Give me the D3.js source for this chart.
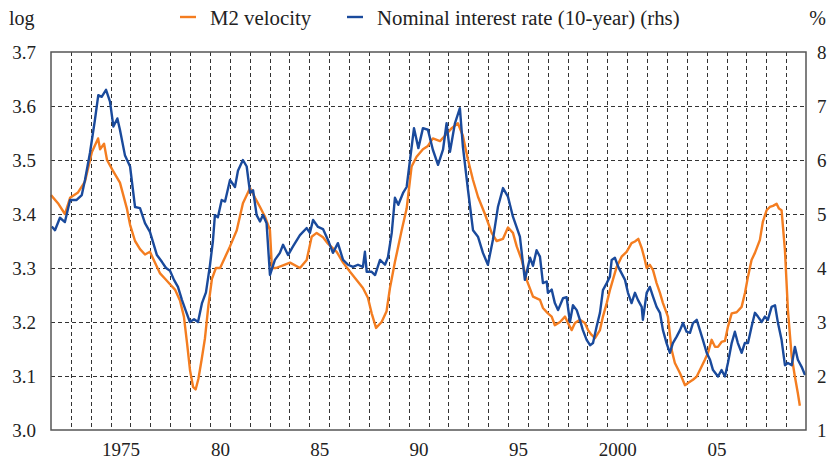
<!DOCTYPE html>
<html>
<head>
<meta charset="utf-8">
<script src="https://cdn.jsdelivr.net/npm/d3@7"></script>
<style>
  body { margin: 0; background: #fff; }
  svg text { font-family: "Liberation Serif", "DejaVu Serif", serif; fill: #222; }
</style>
</head>
<body>
<svg class="svg"></svg>
<script>
// M2 velocity (log), [decimal year, value]
const m2Velocity = [
  [1972.00, 3.435], [1972.35, 3.42], [1972.70, 3.40], [1972.96, 3.43], [1973.36, 3.44],
  [1973.71, 3.46], [1974.06, 3.515], [1974.37, 3.54], [1974.47, 3.52], [1974.67, 3.53],
  [1974.82, 3.50], [1975.12, 3.48], [1975.47, 3.458], [1975.82, 3.41], [1975.98, 3.38],
  [1976.23, 3.35], [1976.48, 3.335], [1976.73, 3.325], [1976.98, 3.33], [1977.23, 3.31],
  [1977.49, 3.29], [1977.74, 3.28], [1977.99, 3.27], [1978.24, 3.26], [1978.49, 3.24],
  [1978.69, 3.21], [1978.85, 3.16], [1979.00, 3.11], [1979.15, 3.08], [1979.28, 3.075],
  [1979.42, 3.095], [1979.58, 3.13], [1979.75, 3.17], [1979.92, 3.23], [1980.10, 3.28],
  [1980.30, 3.30], [1980.51, 3.30], [1980.76, 3.32], [1981.01, 3.34], [1981.35, 3.37],
  [1981.66, 3.42], [1982.02, 3.448], [1982.27, 3.43], [1982.52, 3.413], [1982.77, 3.395],
  [1983.02, 3.37], [1983.12, 3.30], [1983.32, 3.30], [1983.68, 3.305], [1984.03, 3.31],
  [1984.53, 3.30], [1984.87, 3.315], [1985.12, 3.358], [1985.37, 3.365], [1985.69, 3.357],
  [1985.94, 3.345], [1986.38, 3.33], [1986.70, 3.31], [1987.05, 3.293], [1987.38, 3.278],
  [1987.70, 3.263], [1987.95, 3.245], [1988.14, 3.216], [1988.36, 3.189], [1988.64, 3.20],
  [1988.89, 3.22], [1989.06, 3.263], [1989.31, 3.311], [1989.65, 3.37], [1989.90, 3.41],
  [1990.15, 3.488], [1990.40, 3.506], [1990.72, 3.52], [1990.97, 3.526], [1991.22, 3.54],
  [1991.58, 3.535], [1991.83, 3.545], [1992.17, 3.559], [1992.48, 3.568], [1992.73, 3.545],
  [1992.99, 3.50], [1993.24, 3.463], [1993.49, 3.432], [1993.84, 3.40], [1994.18, 3.365],
  [1994.43, 3.35], [1994.75, 3.354], [1995.00, 3.375], [1995.25, 3.365], [1995.44, 3.34],
  [1995.69, 3.315], [1995.94, 3.278], [1996.26, 3.247], [1996.61, 3.241], [1996.76, 3.226],
  [1997.01, 3.216], [1997.20, 3.21], [1997.36, 3.194], [1997.62, 3.20], [1997.87, 3.21],
  [1998.02, 3.198], [1998.21, 3.185], [1998.37, 3.198], [1998.62, 3.204], [1998.87, 3.198],
  [1999.03, 3.185], [1999.21, 3.176], [1999.38, 3.17], [1999.63, 3.185], [1999.78, 3.21],
  [1999.97, 3.235], [2000.13, 3.259], [2000.28, 3.278], [2000.47, 3.302], [2000.72, 3.321],
  [2000.97, 3.33], [2001.22, 3.346], [2001.39, 3.349], [2001.56, 3.354], [2001.73, 3.337],
  [2001.89, 3.315], [2001.98, 3.30], [2002.14, 3.306], [2002.30, 3.296], [2002.48, 3.272],
  [2002.65, 3.254], [2002.80, 3.235], [2003.05, 3.21], [2003.24, 3.148], [2003.40, 3.124],
  [2003.66, 3.105], [2003.91, 3.083], [2004.06, 3.087], [2004.31, 3.093], [2004.50, 3.099],
  [2004.66, 3.111], [2004.91, 3.13], [2005.07, 3.143], [2005.25, 3.167], [2005.42, 3.154],
  [2005.57, 3.154], [2005.75, 3.163], [2005.92, 3.165], [2006.07, 3.191], [2006.26, 3.216],
  [2006.51, 3.218], [2006.76, 3.228], [2006.93, 3.254], [2007.08, 3.284], [2007.26, 3.315],
  [2007.43, 3.328], [2007.68, 3.352], [2007.83, 3.386], [2008.02, 3.407], [2008.18, 3.413],
  [2008.34, 3.415], [2008.52, 3.419], [2008.64, 3.41], [2008.77, 3.407], [2008.94, 3.333],
  [2009.09, 3.222], [2009.28, 3.136], [2009.44, 3.099], [2009.59, 3.068], [2009.69, 3.045]
];

// nominal 10-year interest rate (%), right-hand scale
const interestRate = [
  [1972.04, 4.77], [1972.20, 4.70], [1972.45, 4.93], [1972.70, 4.85], [1972.96, 5.26],
  [1973.29, 5.26], [1973.55, 5.35], [1973.71, 5.63], [1973.96, 6.13], [1974.21, 6.74],
  [1974.38, 7.2], [1974.55, 7.17], [1974.77, 7.3], [1974.97, 7.08], [1975.14, 6.62],
  [1975.34, 6.77], [1975.47, 6.56], [1975.72, 6.09], [1975.98, 5.88], [1976.23, 5.13],
  [1976.48, 5.11], [1976.73, 4.83], [1976.98, 4.67], [1977.33, 4.24], [1977.59, 4.11],
  [1977.79, 4.0], [1977.99, 3.95], [1978.19, 3.78], [1978.39, 3.65], [1978.59, 3.41],
  [1978.79, 3.2], [1978.99, 3.0], [1979.20, 3.05], [1979.40, 3.0], [1979.60, 3.35],
  [1979.80, 3.55], [1980.00, 4.05], [1980.15, 4.5], [1980.25, 4.98], [1980.40, 4.94],
  [1980.59, 5.26], [1980.76, 5.23], [1981.01, 5.63], [1981.26, 5.5], [1981.41, 5.8],
  [1981.66, 6.0], [1981.85, 5.88], [1982.02, 5.39], [1982.17, 5.44], [1982.35, 4.98],
  [1982.52, 4.86], [1982.67, 4.98], [1982.85, 4.83], [1983.02, 3.87], [1983.27, 4.15],
  [1983.52, 4.28], [1983.68, 4.43], [1983.93, 4.24], [1984.18, 4.4], [1984.53, 4.61],
  [1984.87, 4.74], [1985.03, 4.65], [1985.19, 4.89], [1985.44, 4.76], [1985.69, 4.72],
  [1985.94, 4.52], [1986.19, 4.28], [1986.44, 4.46], [1986.70, 4.15], [1986.95, 4.06],
  [1987.20, 4.02], [1987.45, 4.06], [1987.70, 4.02], [1987.80, 4.3], [1987.89, 3.93],
  [1988.14, 3.93], [1988.31, 3.87], [1988.56, 4.15], [1988.81, 4.06], [1988.96, 4.2],
  [1989.15, 4.65], [1989.31, 5.3], [1989.48, 5.17], [1989.72, 5.39], [1989.90, 5.5],
  [1990.07, 6.0], [1990.27, 6.59], [1990.49, 6.22], [1990.72, 6.59], [1990.97, 6.56],
  [1991.22, 6.19], [1991.48, 5.91], [1991.73, 6.19], [1991.91, 6.68], [1992.08, 6.15],
  [1992.33, 6.68], [1992.58, 6.96], [1992.73, 6.25], [1992.99, 5.44], [1993.24, 4.7],
  [1993.49, 4.58], [1993.74, 4.28], [1993.99, 4.06], [1994.24, 4.52], [1994.50, 5.14],
  [1994.75, 5.48], [1995.00, 5.32], [1995.25, 4.95], [1995.60, 4.58], [1995.85, 3.78],
  [1996.11, 4.19], [1996.26, 4.04], [1996.44, 4.33], [1996.61, 4.21], [1996.76, 3.72],
  [1996.95, 3.75], [1997.01, 3.54], [1997.20, 3.6], [1997.36, 3.35], [1997.52, 3.22],
  [1997.77, 3.44], [1997.95, 3.46], [1998.12, 3.0], [1998.27, 3.31], [1998.46, 3.22],
  [1998.62, 3.04], [1998.77, 2.85], [1998.96, 2.67], [1999.13, 2.57], [1999.28, 2.61],
  [1999.46, 2.91], [1999.63, 3.17], [1999.78, 3.59], [1999.97, 3.72], [2000.13, 3.84],
  [2000.22, 4.15], [2000.38, 4.19], [2000.55, 4.02], [2000.72, 3.9], [2000.89, 3.78],
  [2001.04, 3.54], [2001.22, 3.35], [2001.39, 3.54], [2001.54, 3.41], [2001.73, 3.28],
  [2001.79, 3.04], [2001.98, 3.54], [2002.14, 3.65], [2002.30, 3.47], [2002.48, 3.28],
  [2002.65, 3.17], [2002.80, 2.85], [2002.98, 2.61], [2003.15, 2.43], [2003.30, 2.61],
  [2003.49, 2.73], [2003.66, 2.85], [2003.81, 2.98], [2003.99, 2.82], [2004.16, 2.8],
  [2004.31, 2.98], [2004.50, 3.04], [2004.66, 2.85], [2004.81, 2.67], [2005.00, 2.43],
  [2005.17, 2.3], [2005.32, 2.11], [2005.57, 1.99], [2005.75, 2.11], [2005.92, 1.99],
  [2006.07, 2.24], [2006.26, 2.61], [2006.42, 2.82], [2006.57, 2.61], [2006.76, 2.43],
  [2006.92, 2.61], [2007.08, 2.61], [2007.26, 2.91], [2007.43, 3.17], [2007.58, 3.1],
  [2007.77, 3.0], [2007.93, 3.1], [2008.08, 3.04], [2008.27, 3.28], [2008.44, 3.31],
  [2008.59, 2.98], [2008.77, 2.67], [2008.94, 2.2], [2009.09, 2.24], [2009.28, 2.2],
  [2009.44, 2.54], [2009.59, 2.3], [2009.78, 2.17], [2009.95, 2.02]
];

const leftTicks = [3.0, 3.1, 3.2, 3.3, 3.4, 3.5, 3.6, 3.7];
const rightTicks = [1, 2, 3, 4, 5, 6, 7, 8];
const yearLabels = ["1975", "80", "85", "90", "95", "2000", "05"];
const labelYears = [1975, 1980, 1985, 1990, 1995, 2000, 2005];
const seriesNames = ["M2 velocity", "Nominal interest rate (10-year) (rhs)"];
const colors = { m2: "#f47d20", rate: "#1a4a9c" };

const width = 834, height = 464;
const margin = { top: 52, right: 28, bottom: 34, left: 51 };

const svg = d3.select(".svg").attr("width", width).attr("height", height);

const x = d3.scaleLinear().domain([1972, 2010]).range([margin.left, width - margin.right]);
const yL = d3.scaleLinear().domain([3.0, 3.7]).range([height - margin.bottom, margin.top]);
const yR = d3.scaleLinear().domain([1, 8]).range([height - margin.bottom, margin.top]);

// dashed grid
const grid = svg.append("g").attr("stroke", "#333").attr("stroke-width", 1).attr("stroke-dasharray", "4,3");
grid.selectAll("line.v")
  .data(d3.range(1973, 2010))
  .join("line")
  .attr("class", "v")
  .attr("x1", d => Math.round(x(d)) + 0.5).attr("x2", d => Math.round(x(d)) + 0.5)
  .attr("y1", margin.top).attr("y2", height - margin.bottom);
grid.selectAll("line.h")
  .data(leftTicks.slice(1, -1))
  .join("line")
  .attr("class", "h")
  .attr("x1", margin.left).attr("x2", width - margin.right)
  .attr("y1", d => Math.round(yL(d)) + 0.5).attr("y2", d => Math.round(yL(d)) + 0.5);

// lines
const lineL = d3.line().x(d => x(d[0])).y(d => yL(d[1]));
const lineR = d3.line().x(d => x(d[0])).y(d => yR(d[1]));

svg.append("path").datum(m2Velocity)
  .attr("fill", "none").attr("stroke", colors.m2).attr("stroke-width", 2.4)
  .attr("stroke-linejoin", "round").attr("d", lineL);
svg.append("path").datum(interestRate)
  .attr("fill", "none").attr("stroke", colors.rate).attr("stroke-width", 2.4)
  .attr("stroke-linejoin", "round").attr("d", lineR);

// frame
svg.append("rect")
  .attr("x", margin.left).attr("y", margin.top)
  .attr("width", width - margin.left - margin.right)
  .attr("height", height - margin.top - margin.bottom)
  .attr("fill", "none").attr("stroke", "#555").attr("stroke-width", 1.5);

// axes (labels only)
const fontSize = 19;
const leftAxis = svg.append("g")
  .attr("transform", `translate(${margin.left},0)`)
  .call(d3.axisLeft(yL).tickValues(leftTicks).tickFormat(d3.format(".1f")).tickSize(0).tickPadding(15));
const rightAxis = svg.append("g")
  .attr("transform", `translate(${width - margin.right},0)`)
  .call(d3.axisRight(yR).tickValues(rightTicks).tickFormat(d3.format("d")).tickSize(0).tickPadding(11));
const bottomAxis = svg.append("g")
  .attr("transform", `translate(0,${height - margin.bottom})`)
  .call(d3.axisBottom(x).tickValues(labelYears.map(d => d + 0.5))
    .tickFormat((d, i) => yearLabels[i]).tickSize(0).tickPadding(13));

[leftAxis, rightAxis, bottomAxis].forEach(a => {
  a.select(".domain").remove();
  a.selectAll("text").attr("font-size", fontSize).attr("font-family", "Liberation Serif").attr("fill", "#222");
});

// unit labels and legend
svg.append("text").attr("x", 9).attr("y", 25).attr("font-size", 20).text("log");
svg.append("text").attr("x", 826).attr("y", 25).attr("font-size", 20).attr("text-anchor", "end").text("%");

const legend = svg.append("g");
const legendItems = [
  { name: seriesNames[0], color: colors.m2, x: 180 },
  { name: seriesNames[1], color: colors.rate, x: 347 }
];
legend.selectAll("line")
  .data(legendItems)
  .join("line")
  .attr("x1", d => d.x).attr("x2", d => d.x + 16)
  .attr("y1", 17).attr("y2", 17)
  .attr("stroke", d => d.color).attr("stroke-width", 2.4);
legend.selectAll("text")
  .data(legendItems)
  .join("text")
  .attr("x", d => d.x + 30).attr("y", 25)
  .attr("font-size", 20.8)
  .text(d => d.name);
</script>
</body>
</html>
